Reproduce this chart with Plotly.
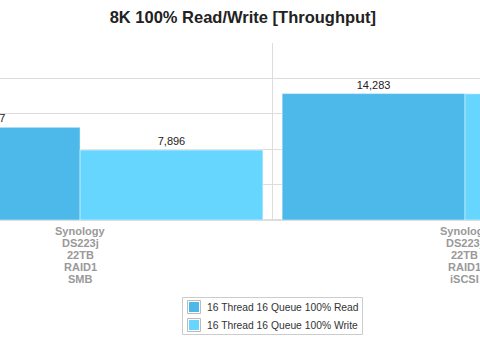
import plotly.graph_objects as go

category_lines = [["Synology", "DS223j", "22TB", "RAID1", "SMB"],
                  ["Synology", "DS223j", "22TB", "RAID1", "iSCSI"]]
categories = ["<br>".join(lines) for lines in category_lines]
read_vals = [10467, 14283]
write_vals = [7896, 14260]
series_names = ["16 Thread 16 Queue 100% Read", "16 Thread 16 Queue 100% Write"]
colors = ["#4DB8EA", "#66D6FF"]
title_text = "8K 100% Read/Write [Throughput]"

FONT = "Liberation Sans, Arial, sans-serif"
W, H = 480, 339
MT, MB = 43, 119
PLOT_H = H - MT - MB


def py(pix):
    """pixel row -> paper y"""
    return (H - MB - pix) / PLOT_H


def px(pix):
    return pix / W


fig = go.Figure()
for name, vals, col in zip(series_names, [read_vals, write_vals], colors):
    fig.add_trace(go.Bar(
        x=categories, y=vals, name=name,
        marker=dict(color=col, line=dict(color="rgba(255,255,255,0.45)", width=1)),
        texttemplate="%{y:,}", textposition="outside", cliponaxis=True,
        textfont=dict(family=FONT, size=11, color="#222222"),
        showlegend=False,
    ))

annotations = []
# category labels, one line each (12px line spacing)
for cat, lines in zip(categories, category_lines):
    for i, line in enumerate(lines):
        annotations.append(dict(
            x=cat, xref="x", y=py(231 + 12 * i), yref="paper", text=line,
            showarrow=False, xanchor="center", yanchor="middle",
            font=dict(family=FONT, size=11, color="#999999", weight="bold"),
        ))

# legend (drawn box)
shapes = [dict(type="rect", xref="paper", yref="paper",
               x0=px(182.5), x1=px(362.5), y0=py(297.5), y1=py(334.5),
               line=dict(color="#cccccc", width=1), fillcolor="white", layer="above")]
for i, (name, col) in enumerate(zip(series_names, colors)):
    cy = 307 + 18 * i
    shapes.append(dict(type="rect", xref="paper", yref="paper",
                       x0=px(187.5), x1=px(200.5), y0=py(cy - 6.5), y1=py(cy + 6.5),
                       line=dict(color="#bbbbbb", width=1), fillcolor="white", layer="above"))
    shapes.append(dict(type="rect", xref="paper", yref="paper",
                       x0=px(189), x1=px(199), y0=py(cy - 5), y1=py(cy + 5),
                       line=dict(width=0), fillcolor=col, layer="above"))
    annotations.append(dict(
        x=px(205), xref="paper", y=py(cy), yref="paper", text=name,
        showarrow=False, xanchor="left", yanchor="middle",
        font=dict(family=FONT, size=10.3, color="#333333"),
    ))

fig.update_layout(
    width=W, height=H,
    margin=dict(l=0, r=0, t=MT, b=MB, autoexpand=False),
    paper_bgcolor="white", plot_bgcolor="white",
    barmode="group", bargap=0.05, bargroupgap=0,
    title=dict(text=title_text, x=0.506, xanchor="center", y=1 - 17 / H, yanchor="middle",
               font=dict(family=FONT, size=16.5, color="#222222", weight="bold")),
    xaxis=dict(range=[-0.208, 1.039], tickson="boundaries", showgrid=True, gridcolor="#dddddd",
               gridwidth=1, ticks="", showline=True, linecolor="#dddddd",
               showticklabels=False, automargin=False, fixedrange=True),
    yaxis=dict(range=[0, 20000], dtick=4000, showgrid=True, gridcolor="#dddddd", gridwidth=1,
               showticklabels=False, zeroline=True, zerolinecolor="#dddddd", automargin=False),
    annotations=annotations,
    shapes=shapes,
    showlegend=False,
)

fig.write_html("out.html")
